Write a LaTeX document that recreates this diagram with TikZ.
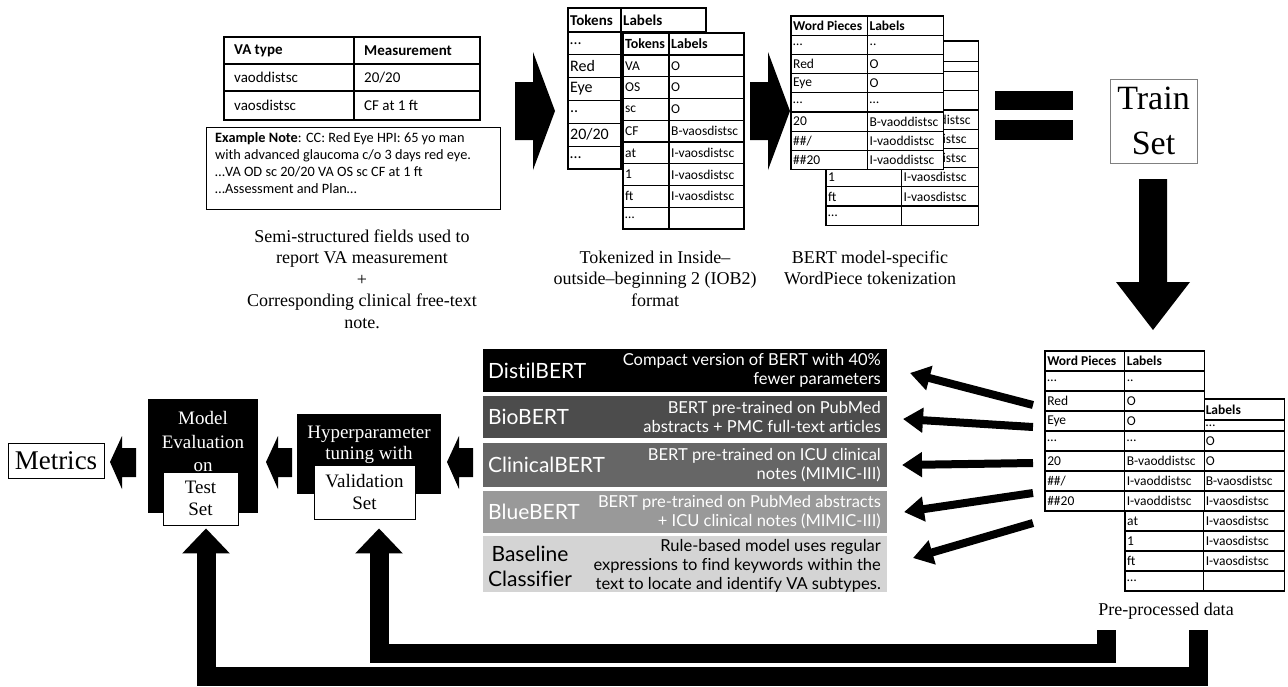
\documentclass[tikz,border=0pt]{standalone}
\usepackage{fontspec}
\setmainfont{Liberation Serif}
\newfontfamily\calfont{Carlito}
\newfontfamily\latofont[Ligatures=NoCommon]{Lato}
\usetikzlibrary{arrows.meta,calc}

\tikzset{
  tabline/.style={line width=1.2pt},
  cell/.style={anchor=west,inner sep=0pt,font=\calfont\fontsize{13.5}{15}\selectfont},
  headcell/.style={cell,font=\calfont\bfseries\fontsize{13.5}{15}\selectfont},
  fieldcell/.style={cell,font=\calfont\fontsize{15}{17}\selectfont},
  bigcell/.style={cell,font=\calfont\fontsize{16}{18}\selectfont},
  captext/.style={align=center,inner sep=0pt,font=\fontsize{18}{21.5}\selectfont},
  blockarrow/.style={fill=black},
  modelbox/.style={minimum width=404pt,inner sep=0pt,outer sep=0pt},
  mname/.style={anchor=west,inner sep=0pt,font=\latofont\fontsize{21}{25}\selectfont},
  mdesc/.style={anchor=east,align=right,inner sep=0pt,font=\latofont\fontsize{16.5}{19}\selectfont},
  fan/.style={line width=8pt,-{Triangle[length=20pt,width=24pt]}},
  feedback/.style={line width=19pt,line join=miter,-{Triangle[length=25pt,width=46pt]}},
  stagetext/.style={text=white,align=center,inner sep=0pt,font=\fontsize{19}{23.5}\selectfont},
  setbox/.style={draw,fill=white,align=center,inner sep=0pt,line width=.8pt,font=\fontsize{19}{22}\selectfont},
}

% word piece table with the token table behind it
\newcommand{\wpstack}[3]{%
  \begin{scope}[#2]
    \begin{scope}[shift={#3}]
      \filldraw[fill=white,tabline] (0,0) rectangle (156,192);
      \draw[tabline] (77,0) -- (77,192);
      \foreach \y in {21,32,52,72,92,112,132,152,172}
        \draw[tabline] (0,\y) -- (156,\y);
      \node[headcell] (#1-bh) at (79,10.5) {Labels};
      \node[cell] (#1-bd) at (79,26.5) {…};
      \foreach \t [count=\i] in {O,O,B-vaosdistsc,I-vaosdistsc,I-vaosdistsc,I-vaosdistsc,I-vaosdistsc}
        \node[cell] (#1-bl\i) at (79,22+20*\i) {\t};
      \foreach \t [count=\i] in {at,1,ft,…}
        \node[cell] (#1-bt\i) at (2,102+20*\i) {\t};
    \end{scope}
    \filldraw[fill=white,tabline] (0,0) rectangle (156,160);
    \draw[tabline] (78,0) -- (78,160);
    \foreach \y in {20,40,...,140}
      \draw[tabline] (0,\y) -- (156,\y);
    \node[headcell] (#1-fh1) at (2,10) {Word Pieces};
    \node[headcell] (#1-fh2) at (80,10) {Labels};
    \foreach \a/\b [count=\i] in {…/.., Red/O, Eye/O, …/…, 20/B-vaoddistsc, {\#\#/}/I-vaoddistsc, \#\#20/I-vaoddistsc}
      {\node[cell] (#1-fa\i) at (2,10+20*\i) {\a};
       \node[cell] (#1-fb\i) at (80,10+20*\i) {\b};}
  \end{scope}}

\begin{document}
\begin{tikzpicture}[x=1pt,y=-1pt]
\useasboundingbox (0,0) rectangle (1288,686);

% semi-structured fields and note
\draw[tabline] (224,37) rectangle (480,120);
\draw[tabline] (354,37) -- (354,120);
\draw[tabline] (224,64) -- (480,64) (224,91) -- (480,91);
\node[fieldcell,font=\calfont\bfseries\fontsize{15}{17}\selectfont] (vah1) at (234,50.5) {VA type};
\node[fieldcell,font=\calfont\bfseries\fontsize{15}{17}\selectfont] (vah2) at (364,50.5) {Measurement};
\node[fieldcell] (va1) at (234,77.5) {vaoddistsc};
\node[fieldcell] (me1) at (364,77.5) {20/20};
\node[fieldcell] (va2) at (234,105) {vaosdistsc};
\node[fieldcell] (me2) at (364,105) {CF at 1 ft};
\node[draw,tabline,anchor=north west,minimum width=294pt,minimum height=82pt,inner sep=0pt] (notebox) at (206,127) {};
\node[anchor=north west,align=left,inner sep=0pt,font=\calfont\fontsize{14.3}{17}\selectfont] (note) at (215,132)
  {\textbf{Example Note}: CC: Red Eye HPI: 65 yo man\\with advanced glaucoma c/o 3 days red eye.\\…VA OD sc 20/20 VA OS sc CF at 1 ft\\…Assessment and Plan…};
\node[captext] (cap1) at (362,279) {Semi-structured fields used to\\report VA measurement\\+\\Corresponding clinical free-text\\note.};

% arrows to the tables
\foreach \dx in {0,235}
  \fill[blockarrow,shift={(\dx,0)}] (515,82) -- (533,82) -- (533,52) -- (555,111) -- (533,170) -- (533,140) -- (515,140) -- cycle;

% IOB2 tables
\draw[tabline] (568,8) rectangle (706,32);
\draw[tabline] (621,8) -- (621,32);
\draw[tabline] (568,32) rectangle (621,169);
\foreach \k in {1,...,5}
  \draw[tabline] (568,32+22.83*\k) -- (621,32+22.83*\k);
\node[headcell,font=\calfont\bfseries\fontsize{15}{17}\selectfont] (tk-h1) at (570,20) {Tokens};
\node[headcell,font=\calfont\bfseries\fontsize{15}{17}\selectfont] (tk-h2) at (623,20) {Labels};
\foreach \t [count=\i] in {…,Red,Eye,..,{20/20},…}
  \node[bigcell] (tk\i) at (570,32+22.83*\i-11.4) {\t};
\filldraw[fill=white,tabline] (623,33) rectangle (744,229);
\draw[tabline] (669,33) -- (669,229);
\foreach \k in {0,...,7}
  \draw[tabline] (623,55+21.75*\k) -- (744,55+21.75*\k);
\node[headcell,font=\calfont\bfseries\fontsize{14}{16}\selectfont] (io-h1) at (625,44) {Tokens};
\node[headcell,font=\calfont\bfseries\fontsize{14}{16}\selectfont] (io-h2) at (671,44) {Labels};
\foreach \a/\b [count=\i] in {VA/O,OS/O,sc/O,CF/B-vaosdistsc,at/I-vaosdistsc,1/I-vaosdistsc,ft/I-vaosdistsc,…/{}}
  {\node[cell] (io-a\i) at (625,55+21.75*\i-10.9) {\a};
   \node[cell] (io-b\i) at (671,55+21.75*\i-10.9) {\b};}
\node[captext] (cap2) at (655,278.5) {Tokenized in Inside–\\outside–beginning 2 (IOB2)\\format};

% WordPiece tables
\wpstack{wp}{shift={(791,16)},xscale=.98,yscale=.96}{(35.7,26)}
\node[captext] (cap3) at (870,268) {BERT model-specific\\WordPiece tokenization};

% equals and train set
\fill[blockarrow] (995,91) rectangle (1073,110);
\fill[blockarrow] (995,120) rectangle (1073,140);
\node[draw=gray,line width=1pt,minimum width=87pt,minimum height=84pt,inner sep=0pt,align=center,font=\fontsize{34}{45}\selectfont] (train) at (1153.5,121) {Train\\Set};
\fill[blockarrow] (1139,179) -- (1167,179) -- (1167,282) -- (1190,282) -- (1153,330) -- (1116,282) -- (1139,282) -- cycle;

% pre-processed data
\wpstack{pp}{shift={(1045,351)},xscale=1.02}{(78.4,48)}
\node[captext] (ppcap) at (1166,611) {Pre-processed data};

% models
\node[modelbox,fill=black,minimum height=43pt] (distil) at (685,370.5) {};
\node[mname,text=white] (distil-n) at (488,370.5) {DistilBERT};
\node[mdesc,text=white] (distil-d) at (881,370.5) {Compact version of BERT with 40\%\\fewer parameters};
\node[modelbox,fill=black!70,minimum height=42pt] (bio) at (685,417) {};
\node[mname,text=white] (bio-n) at (488,417) {BioBERT};
\node[mdesc,text=white] (bio-d) at (881,417) {BERT pre-trained on PubMed\\abstracts + PMC full-text articles};
\node[modelbox,fill=black!60,minimum height=44pt] (clin) at (685,465) {};
\node[mname,text=white] (clin-n) at (488,465) {ClinicalBERT};
\node[mdesc,text=white] (clin-d) at (881,465) {BERT pre-trained on ICU clinical\\notes (MIMIC-III)};
\node[modelbox,fill=black!40,minimum height=42pt] (blue) at (685,512) {};
\node[mname,text=white] (blue-n) at (488,512) {BlueBERT};
\node[mdesc,text=white] (blue-d) at (881,512) {BERT pre-trained on PubMed abstracts\\+ ICU clinical notes (MIMIC-III)};
\node[modelbox,fill=black!17,minimum height=56pt] (base) at (685,564) {};
\node[mname,anchor=center,align=center] (base-n) at (530,566) {Baseline\\Classifier};
\node[mdesc] (base-d) at (881,566) {Rule-based model uses regular\\expressions to find keywords within the\\text to locate and identify VA subtypes.};

\foreach \m/\ty/\dx/\dy [count=\i] in {distil/405/23/2.5,bio/427/16/2,clin/463/15/0,blue/493/17/0,base/523/26/-6}
  {\coordinate (tail\i) at (1033,\ty);
   \draw[fan] (tail\i) -- ($(\m.east)+(\dx,\dy)$);}

% tuning, evaluation, metrics
\foreach \tx in {110,266,447}
  \fill[blockarrow,shift={(\tx,0)}] (0,462) -- (12,436) -- (12,448) -- (26,448) -- (26,477) -- (12,477) -- (12,489) -- cycle;
\node[fill=black,minimum width=144pt,minimum height=80pt,inner sep=0pt] (hyper) at (369,454) {};
\node[stagetext,font=\fontsize{19}{21}\selectfont] (hyper-t) at (369,444.5) {Hyperparameter\\tuning with};
\node[setbox,minimum width=101pt,minimum height=54pt] (valid) at (364.5,492) {Validation\\Set};
\node[fill=black,minimum width=110pt,minimum height=114pt,inner sep=0pt] (eval) at (203,456) {};
\node[stagetext] (eval-t) at (203,441.5) {Model\\Evaluation\\on};
\node[setbox,minimum width=75pt,minimum height=53pt] (test) at (200.5,498.5) {Test\\Set};
\node[draw,line width=.8pt,minimum width=96pt,minimum height=35pt,inner sep=0pt,font=\fontsize{27}{30}\selectfont] (metrics) at (56,460.5) {Metrics};

% feedback to validation and test sets
\coordinate (fbi) at (1106,630);
\coordinate (fbo) at (1198,630);
\draw[feedback] (fbi) -- ++(0,23) -| ($(valid.south)+(14.5,9)$);
\draw[feedback] (fbo) -- ++(0,46) -| ($(test.south)+(5.5,3)$);
\end{tikzpicture}
\end{document}
